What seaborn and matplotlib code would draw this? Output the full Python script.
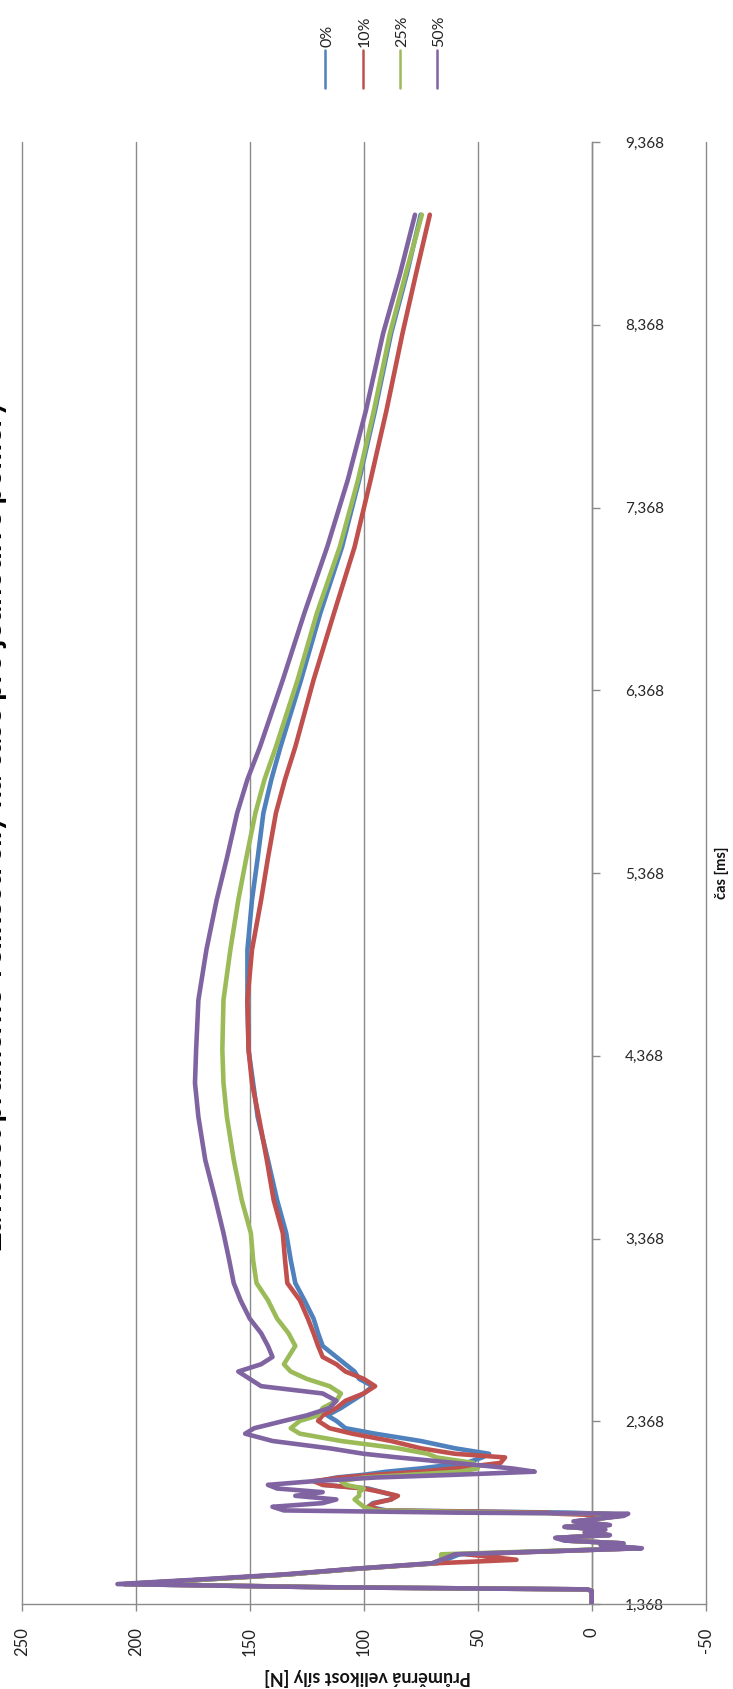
import matplotlib
matplotlib.use("Agg")
import matplotlib.pyplot as plt
from matplotlib.lines import Line2D
import pandas as pd
import seaborn as sns

# ---------------- data ----------------
cas_ms = [1.368, 1.440, 1.448, 1.460, 1.477, 1.500, 1.530, 1.560, 1.591, 1.610,
          1.640, 1.673, 1.690, 1.700, 1.715, 1.730, 1.745, 1.760, 1.775, 1.790,
          1.800, 1.820, 1.835, 1.850, 1.862, 1.868, 1.880, 1.900, 1.920, 1.940,
          1.960, 1.980, 2.000, 2.020, 2.040, 2.060, 2.075, 2.092, 2.110, 2.140,
          2.170, 2.190, 2.220, 2.260, 2.300, 2.330, 2.370, 2.400, 2.440, 2.480,
          2.520, 2.560, 2.600, 2.640, 2.680, 2.720, 2.780, 2.850, 2.930, 3.030,
          3.124, 3.250, 3.398, 3.579, 3.798, 4.033, 4.219, 4.400, 4.673, 4.947,
          5.220, 5.450, 5.696, 5.880, 6.058, 6.424, 6.791, 7.152, 7.518, 7.900,
          8.320, 8.650, 8.970]

sila_0 = [0, 0, 2, 118, 205, 172, 133, 104, 68, 64,
          58, -20, -4, -13, 11, 15, -7, 3, -5, 11,
          -7, 7, -3, -12, -5, 10, 90, 98, 96, 88,
          86, 92, 98, 118, 120, 112, 100, 90, 75, 55,
          48, 45, 60, 75, 95, 108, 112, 116, 110, 105,
          100, 96, 102, 104, 108, 112, 118, 120, 122, 126,
          130, 132, 134, 138, 142, 146.5, 148.5, 150.5, 151, 151,
          149, 146.5, 144, 140.5, 136.5, 127.5, 119, 109.5, 102, 95,
          88, 81, 75]

sila_10 = [0, 0, 2, 118, 205, 172, 133, 104, 68, 33,
           55, -20, -4, -13, 11, 15, -7, 3, -5, 11,
           -7, 7, -3, -12, 15, 20, 92, 98, 95, 88,
           85, 92, 100, 118, 122, 110, 95, 75, 60, 40,
           38, 60, 75, 88, 105, 115, 120, 118, 112, 108,
           100, 95, 100, 108, 112, 118, 120, 122, 124.5, 128,
           133.5, 134.5, 135.5, 139.5, 142.5, 146, 149, 150.5, 151, 149,
           145, 142, 138.5, 134.5, 130, 122, 113, 104, 97, 90,
           83, 77, 71]

sila_25 = [0, 0, 2, 118, 205, 172, 133, 104, 70, 66,
           66, -20, -4, -13, 11, 15, -7, 3, -5, 11,
           -7, 7, -3, -12, -8, 40, 95, 100, 102, 104,
           102, 102, 100, 108, 110, 100, 80, 58, 50, 52,
           68, 72, 85, 110, 128, 132, 128, 120, 118, 112,
           110, 115, 125, 132, 135, 133, 130, 133, 138, 142,
           147, 148.5, 149.5, 153.5, 157, 160, 161.5, 162, 161.5, 158.5,
           155, 151.5, 147.5, 143.5, 138.5, 129, 120.5, 110.5, 102.5, 95.5,
           88.5, 81.5, 74.5]

sila_50 = [0, 0, 2, 120, 208, 175, 135, 105, 70, 66,
           60, -22, -4, -14, 12, 16, -8, 3, -6, 12,
           -8, 8, -3, -14, -16, 60, 135, 140, 118, 112,
           130, 118, 138, 142, 122, 95, 60, 25, 35, 60,
           85, 100, 115, 140, 152, 148, 135, 125, 115, 112,
           118, 145, 150, 155, 145, 140, 142, 145, 150, 154,
           157, 159, 161.5, 165, 169.5, 172.5, 174, 173.5, 172.5, 169,
           164.5, 160, 155.5, 151, 145.5, 135.5, 126, 116, 107, 99,
           91.5, 84, 77.5]

serie_labels = ["0%", "10%", "25%", "50%"]
serie_colors = ["#4F81BD", "#C0504D", "#9BBB59", "#8064A2"]

sila_ticks = [250, 200, 150, 100, 50, 0, -50]
cas_ticks = [1.368, 2.368, 3.368, 4.368, 5.368, 6.368, 7.368, 8.368, 9.368]
cas_tick_labels = ["1,368", "2,368", "3,368", "4,368", "5,368",
                   "6,368", "7,368", "8,368", "9,368"]

title_text = "Závislost průměrné velikosti síly na čase pro jednotlivé poměry"
xlabel_text = "Průměrná velikost síly [N]"
ylabel_text = "čas [ms]"

# ---------------- build ----------------
frames = []
for lab, vals in zip(serie_labels, [sila_0, sila_10, sila_25, sila_50]):
    frames.append(pd.DataFrame({"cas": cas_ms, "sila": vals, "serie": lab}))
df = pd.concat(frames, ignore_index=True)

sns.set_theme(style="white")
plt.rcParams["font.family"] = ["Lato", "DejaVu Sans"]

W, H = 733, 1689
fig = plt.figure(figsize=(W / 100, H / 100), dpi=100)
fig.patch.set_facecolor("white")
ax = fig.add_axes([21.7 / W, 1 - 1604 / H, 684 / W, 1462 / H])
ax.set_facecolor("white")

sns.lineplot(data=df, x="sila", y="cas", hue="serie", hue_order=serie_labels,
             palette=serie_colors, sort=False, estimator=None, orient="y",
             linewidth=3.3, legend=False, ax=ax, zorder=3)

grid_c = "#8a8a8a"
ax.set_xlim(250, -50)
ax.set_ylim(cas_ticks[0], cas_ticks[-1])

ax.set_xticks(sila_ticks)
ax.set_xticklabels([str(v) for v in sila_ticks], rotation=90, fontsize=12,
                   color="#222222")
ax.set_yticks(cas_ticks)
ax.set_yticklabels(cas_tick_labels, rotation=90, va="center", fontsize=12,
                   color="#222222")

ax.grid(False)
for v in sila_ticks:
    ax.axvline(v, color=grid_c, lw=1.0, zorder=1, clip_on=False)

for s in ["left", "top"]:
    ax.spines[s].set_visible(False)
ax.spines["right"].set_position(("data", 0))
ax.spines["right"].set_color(grid_c)
ax.spines["right"].set_linewidth(1.0)
ax.spines["bottom"].set_color(grid_c)
ax.spines["bottom"].set_linewidth(1.0)

ax.yaxis.tick_right()
ax.tick_params(axis="y", which="both", right=True, left=False, direction="out",
               length=6, width=1.0, color=grid_c, pad=18)
ax.tick_params(axis="x", which="both", bottom=True, direction="out",
               length=5, width=1.0, color=grid_c, pad=12)
ax.set_xlabel("")
ax.set_ylabel("")

# axis titles
fig.text(368 / W, 1 - 1677 / H, xlabel_text, rotation=180, ha="center",
         va="center", fontsize=13, fontweight="bold", color="#111111")
fig.text(722 / W, 1 - 873 / H, ylabel_text, rotation=90, ha="center",
         va="center", fontsize=10.5, fontweight="bold", color="#111111")

# chart title (mostly outside the canvas, as in the reference)
fig.text(7 / W, 1 - 825 / H, title_text, rotation=90, ha="right",
         va="center", fontsize=22, fontweight="bold", color="#000000")

# legend (rotated, drawn by hand)
leg_x = [325, 363, 400, 437]
for x, lab, c in zip(leg_x, serie_labels, serie_colors):
    fig.add_artist(Line2D([x / W, x / W], [1 - 50 / H, 1 - 88 / H],
                          color=c, lw=1.8, transform=fig.transFigure))
    fig.text((x + 2) / W, 1 - 47 / H, lab, rotation=90, ha="center",
             va="bottom", fontsize=11.5, color="#222222")

fig.savefig("out.png", dpi=100, facecolor="white")
